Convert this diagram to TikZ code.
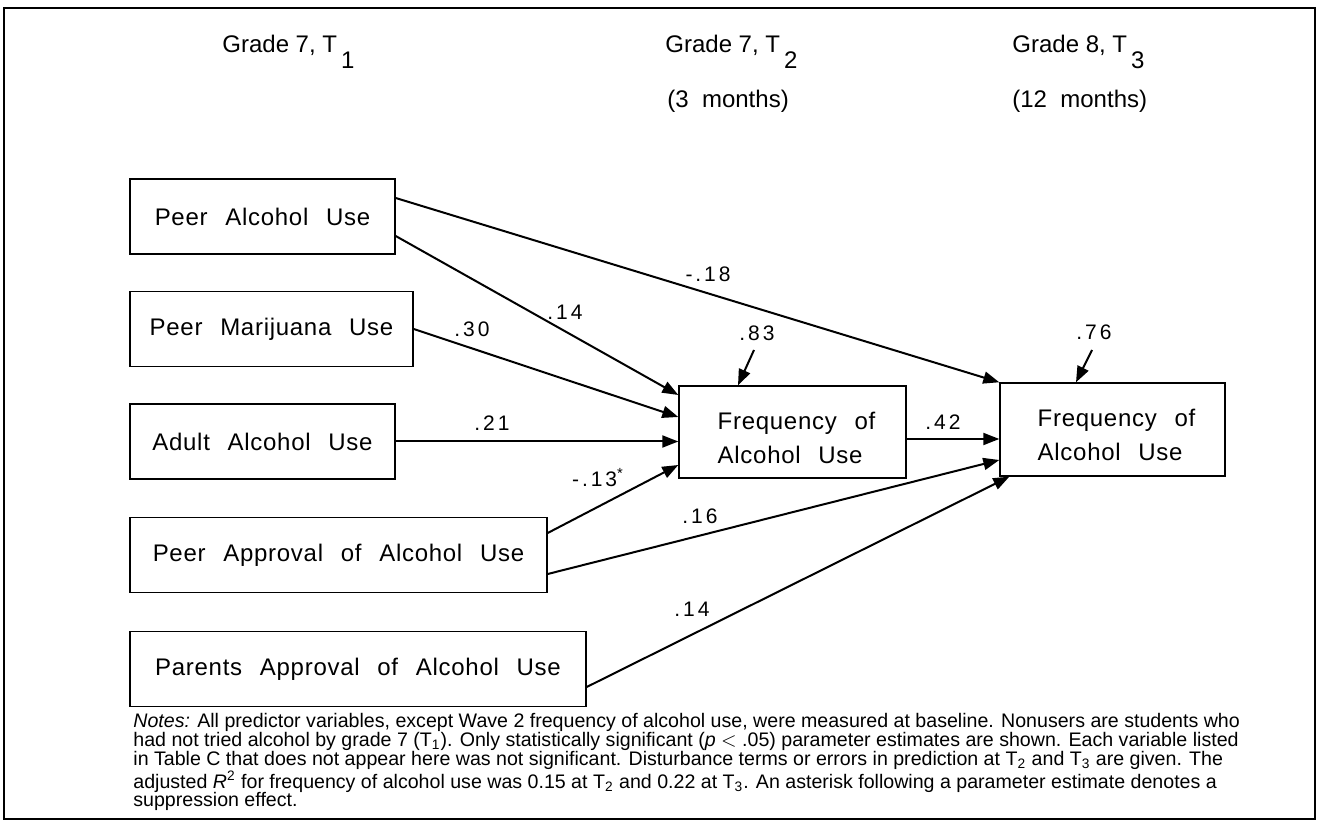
\documentclass[tikz,border=0pt]{standalone}
\usepackage{fontspec}
\setmainfont{Liberation Sans}
\newfontfamily\boxfont[LetterSpace=3,WordSpace=2.4]{Liberation Sans}
\newfontfamily\estfont[LetterSpace=14]{Liberation Sans}
\usetikzlibrary{arrows.meta}

\begin{document}
\begin{tikzpicture}[x=.5pt,y=-.5pt,
		varbox/.style={draw,line width=.7pt,inner sep=0pt,minimum height=37.5pt,font=\boxfont\fontsize{12}{14}\selectfont},
		freqbox/.style={draw,line width=.7pt,inner sep=0pt,align=left,font=\boxfont\fontsize{12}{17}\selectfont},
		effect/.style={line width=1pt,-{Triangle[length=8pt,width=6pt]}},
		est/.style={inner sep=0pt,font=\estfont\fontsize{10.5}{12}\selectfont},
		wave/.style={anchor=base west,inner sep=0pt,font=\fontsize{12}{14}\selectfont}]
	\useasboundingbox (0,0) rectangle (1318,823);
	\draw[line width=1.2pt] (4,8) rectangle (1315,819);
	%=========== waves, from left to right===========================
	\node[wave] (w1) at (222,53) {Grade 7, T\,\raisebox{-8pt}{1}};
	\node[wave] (w2) at (665,53) {Grade 7, T\,\raisebox{-8pt}{2}};
	\node[wave] (m2) at (667,108) {(3~~months)};
	\node[wave] (w3) at (1012,53) {Grade 8, T\,\raisebox{-8pt}{3}};
	\node[wave] (m3) at (1012,108) {(12~~months)};
	%=========== predictors at T1, from top to bottom===========================
	\node[varbox,minimum width=132.5pt] (palc) at (262.5,216.5) {Peer Alcohol Use};
	\node[varbox,minimum width=141.5pt] (pmar) at (271.5,329) {Peer Marijuana Use};
	\node[varbox,minimum width=132.5pt] (aalc) at (262.5,441.5) {Adult Alcohol Use};
	\node[varbox,minimum width=208.5pt] (pappr) at (338.5,555) {Peer Approval of Alcohol Use};
	\node[varbox,minimum width=228pt] (parappr) at (358,669) {Parents Approval of Alcohol Use};
	%=========== outcomes at T2 and T3===========================
	\node[freqbox,minimum width=113.5pt,minimum height=46pt] (t2) at (792.5,432) {\rule{0pt}{1.2em}\hspace{4pt}Frequency of\\\hspace{4pt}Alcohol Use};
	\node[freqbox,minimum width=112.5pt,minimum height=46.5pt] (t3) at (1112.5,429.5) {\rule{0pt}{1.2em}\hspace{4pt}Frequency of\\\hspace{4pt}Alcohol Use};
	%=========== paths===========================
	\draw[effect] ([yshift=9.25pt]palc.east) -- (t3.north west);
	\draw[effect] ([yshift=-9.75pt]palc.east) -- ([yshift=18.5pt]t2.west);
	\draw[effect] (pmar.east) -- ([yshift=7.5pt]t2.west);
	\draw[effect] (aalc.east) -- (aalc.east -| t2.west);
	\draw[effect] ([yshift=11pt]pappr.east) -- ([yshift=-16.5pt]t2.west);
	\draw[effect] ([yshift=-9.5pt]pappr.east) -- ([yshift=-15.25pt]t3.west);
	\draw[effect] ([yshift=-9pt]parappr.east) -- ([xshift=5pt]t3.south west);
	\draw[effect] ([yshift=-3.5pt]t2.east) -- ([yshift=-4.75pt]t3.west);
	%=========== estimates===========================
	\node[est] (l1) at (708,274) {-.18};
	\node[est] (l2) at (565,312) {.14};
	\node[est] (l3) at (472,329) {.30};
	\node[est] (l4) at (492,423) {.21};
	\node[est] (l5) at (598,478) {-.13\textsuperscript{*}};
	\node[est] (l6) at (700,516) {.16};
	\node[est] (l7) at (692,609) {.14};
	\node[est] (l8) at (943,422) {.42};
	%=========== disturbances===========================
	\node[est] (d2) at (757,333) {.83};
	\coordinate (e2) at (754,350);
	\draw[effect] (e2) -- ([xshift=-27.25pt]t2.north);
	\node[est] (d3) at (1094,332) {.76};
	\coordinate (e3) at (1092,350);
	\draw[effect] (e3) -- ([xshift=-18.25pt]t3.north);
	%=========== notes===========================
	\node[anchor=north west,inner sep=0pt,align=left,font=\fontsize{9.8}{9.4}\selectfont] (notes) at (133,713) {%
		\textit{Notes:} All predictor variables, except Wave 2 frequency of alcohol use, were measured at baseline. Nonusers are students who\\
		had not tried alcohol by grade 7 (T\textsubscript{1}). Only statistically significant (\textit{p} $<$ .05) parameter estimates are shown. Each variable listed\\
		in Table C that does not appear here was not significant. Disturbance terms or errors in prediction at T\textsubscript{2} and T\textsubscript{3} are given. The\\
		adjusted \textit{R}\textsuperscript{2} for frequency of alcohol use was 0.15 at T\textsubscript{2} and 0.22 at T\textsubscript{3}. An asterisk following a parameter estimate denotes a\\
		suppression effect.};
\end{tikzpicture}
\end{document}
